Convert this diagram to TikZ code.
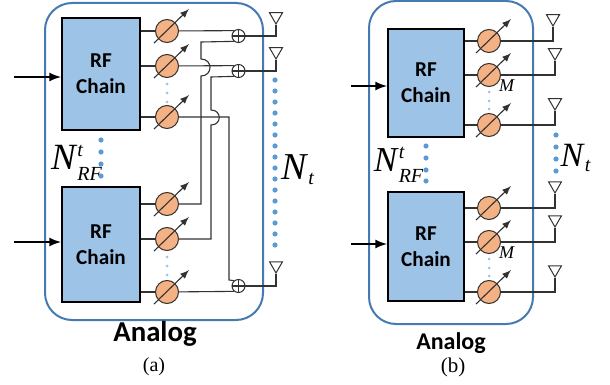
\documentclass[tikz,border=0pt]{standalone}
\usepackage{fontspec}
\setmainfont{Liberation Serif}
\newfontfamily\chainfont{Carlito}
\usetikzlibrary{shapes.geometric}
\definecolor{framecol}{RGB}{70,122,176}
\definecolor{chaincol}{RGB}{157,195,230}
\definecolor{shiftcol}{RGB}{244,177,131}
\definecolor{dotcol}{RGB}{91,155,213}
\definecolor{wirecol}{RGB}{50,50,50}
\tikzset{rfchain/.style={rectangle,draw=black,line width=1pt,fill=chaincol,minimum width=39pt,minimum height=56pt,inner sep=0pt,align=center,font=\chainfont\bfseries\fontsize{10.6}{13}\selectfont}}
\tikzset{shifter/.style={circle,draw=wirecol,line width=.5pt,fill=shiftcol,minimum size=11.5pt,inner sep=0pt}}
\tikzset{combiner/.style={circle,draw=wirecol,line width=.5pt,minimum size=6.5pt,inner sep=0pt}}
\tikzset{antenna/.style={regular polygon,regular polygon sides=3,shape border rotate=180,draw=wirecol,line width=.5pt,minimum size=7.5pt,inner sep=0pt}}
\tikzset{wire/.style={color=wirecol,line width=.55pt}}
\tikzset{feed/.style={-latex,line width=1pt,color=black}}
\tikzset{frame/.style={rectangle,draw=framecol,line width=1pt,rounded corners=13.5pt,inner sep=0pt}}
\tikzset{bigdot/.style={circle,fill=dotcol,minimum size=2.6pt,inner sep=0pt}}
\tikzset{smalldot/.style={circle,fill=chaincol,minimum size=1.5pt,inner sep=0pt}}
\newcommand{\smallit}[1]{\hbox{\fontsize{10}{10}\selectfont\itshape #1}}
\newcommand{\lowit}[1]{\lower1.5pt\hbox{\fontsize{10}{10}\selectfont\itshape #1}}
\begin{document}
\begin{tikzpicture}[x=.5pt,y=-.5pt]
  \useasboundingbox (0,0) rectangle (610,385);
  %% Frames
  \draw (154,161.5) node[frame,minimum width=109pt,minimum height=158.5pt] (FrameA) {};
  \draw (451,162.5) node[frame,minimum width=82pt,minimum height=161.5pt] (FrameB) {};

  %% Left diagram
  \draw (101,74) node[rfchain] (ChainA1) {RF\\Chain};
  \draw (101,244.5) node[rfchain,minimum height=57.5pt] (ChainA2) {RF\\Chain};
  \draw (14,77) coordinate (InA1);
  \draw (14,242) coordinate (InA2);

  \draw (167,31) node[shifter] (A1) {};
  \draw (167,66) node[shifter] (A2) {};
  \draw (167,117) node[shifter] (A3) {};
  \draw (167,204) node[shifter] (A4) {};
  \draw (167,239) node[shifter] (A5) {};
  \draw (167,292) node[shifter] (A6) {};

  \draw (238.5,36) node[combiner] (C1) {};
  \draw (238.5,71) node[combiner] (C2) {};
  \draw (238.5,286) node[combiner] (C3) {};

  \draw (276,16.5) node[antenna] (TA1) {};
  \draw (276,51.5) node[antenna] (TA2) {};
  \draw (276,265.5) node[antenna] (TA3) {};

  \draw[feed] (InA1) -- (InA1 -| ChainA1.west);
  \draw[feed] (InA2) -- (InA2 -| ChainA2.west);
  \foreach \p in {A1,A2,A3}
    \draw[wire] (ChainA1.east |- \p) -- (\p);
  \foreach \p in {A4,A5,A6}
    \draw[wire] (ChainA2.east |- \p) -- (\p);

  \draw[wire] (A1) -- (C1.130);
  \draw[wire] (A2) -- (C2.130);
  \draw[wire] (A6) -- (C3.230);
  \draw[wire] (C1.230) -- (201,42) -- (201,59) .. controls (213,59) and (213,76) .. (201,76) -- (201,204) -- (A4);
  \draw[wire] (C2.230) -- (211,77) -- (211,110) .. controls (222,110) and (222,125) .. (211,125) -- (211,239) -- (A5);
  \draw[wire] (A3) -- (229,117) -- (229,280) -- (C3.130);
  \foreach \c/\t in {C1/TA1,C2/TA2,C3/TA3}{
    \draw[wire] (\c) -| (\t.corner 1);
    \draw[wire] (\c.north) -- (\c.south);
    \draw[wire] (\c.west) -- (\c.east);
  }

  \foreach \y in {84,93,102,257,266,275}
    \draw (167,\y) node[smalldot] {};
  \foreach \y in {140,152,164,176}
    \draw (101,\y) node[bigdot] {};
  \foreach \i in {0,...,15}
    \draw (275,80+11*\i) node[bigdot] {};

  \draw (77,163) node {\fontsize{18.5}{19}\selectfont\textit{N}$^{\smallit{t}}_{\lowit{RF}}$};
  \draw (298,170) node {\fontsize{19}{19}\selectfont\textit{N}$_{\smallit{t}}$};
  \draw (155,334) node {\chainfont\bfseries\fontsize{14.4}{16}\selectfont Analog};
  \draw (154,367) node {\fontsize{10}{11}\selectfont (a)};

  %% Right diagram
  \draw (426,83) node[rfchain,minimum width=38pt,minimum height=54pt] (ChainB1) {RF\\Chain};
  \draw (426,246.5) node[rfchain,minimum width=38pt,minimum height=54.5pt] (ChainB2) {RF\\Chain};
  \draw (351,86) coordinate (InB1);
  \draw (351,244) coordinate (InB2);

  \draw (489,41) node[shifter] (B1) {};
  \draw (489,75) node[shifter] (B2) {};
  \draw (489,125) node[shifter] (B3) {};
  \draw (489,208) node[shifter] (B4) {};
  \draw (489,242) node[shifter] (B5) {};
  \draw (489,292) node[shifter] (B6) {};

  \draw (553,18.5) node[antenna] (TB1) {};
  \draw (555,52.5) node[antenna] (TB2) {};
  \draw (555,102.5) node[antenna] (TB3) {};
  \draw (555,185.5) node[antenna] (TB4) {};
  \draw (555,219.5) node[antenna] (TB5) {};
  \draw (555,269.5) node[antenna] (TB6) {};

  \draw[feed] (InB1) -- (InB1 -| ChainB1.west);
  \draw[feed] (InB2) -- (InB2 -| ChainB2.west);
  \foreach \p/\t in {B1/TB1,B2/TB2,B3/TB3}{
    \draw[wire] (ChainB1.east |- \p) -- (\p);
    \draw[wire] (\p) -| (\t.corner 1);
  }
  \foreach \p/\t in {B4/TB4,B5/TB5,B6/TB6}{
    \draw[wire] (ChainB2.east |- \p) -- (\p);
    \draw[wire] (\p) -| (\t.corner 1);
  }

  \foreach \y in {92,101,109,259,268,276}
    \draw (489,\y) node[smalldot] {};
  \foreach \y in {146,158,170,181}
    \draw (426,\y) node[bigdot] {};
  \foreach \y in {135,147,159,171}
    \draw (556,\y) node[bigdot] {};

  \draw (507,86) node {\fontsize{9}{10}\selectfont\textit{M}};
  \draw (507,253) node {\fontsize{9}{10}\selectfont\textit{M}};
  \draw (399,165) node {\fontsize{17.5}{18}\selectfont\textit{N}$^{\smallit{t}}_{\lowit{RF}}$};
  \draw (576,158) node {\fontsize{17}{17}\selectfont\textit{N}$_{\smallit{t}}$};
  \draw (451,343) node {\chainfont\bfseries\fontsize{12}{14}\selectfont Analog};
  \draw (453,367) node {\fontsize{10.5}{11}\selectfont (b)};

  %% Shifter arrows and strokes on top
  \foreach \p in {A1,A2,A3,A4,A5,A6,B1,B2,B3,B4,B5,B6}
    \draw[-latex,wire] ([shift={(-13,12)}]\p.center) -- ([shift={(22,-22)}]\p.center);
\end{tikzpicture}
\end{document}
